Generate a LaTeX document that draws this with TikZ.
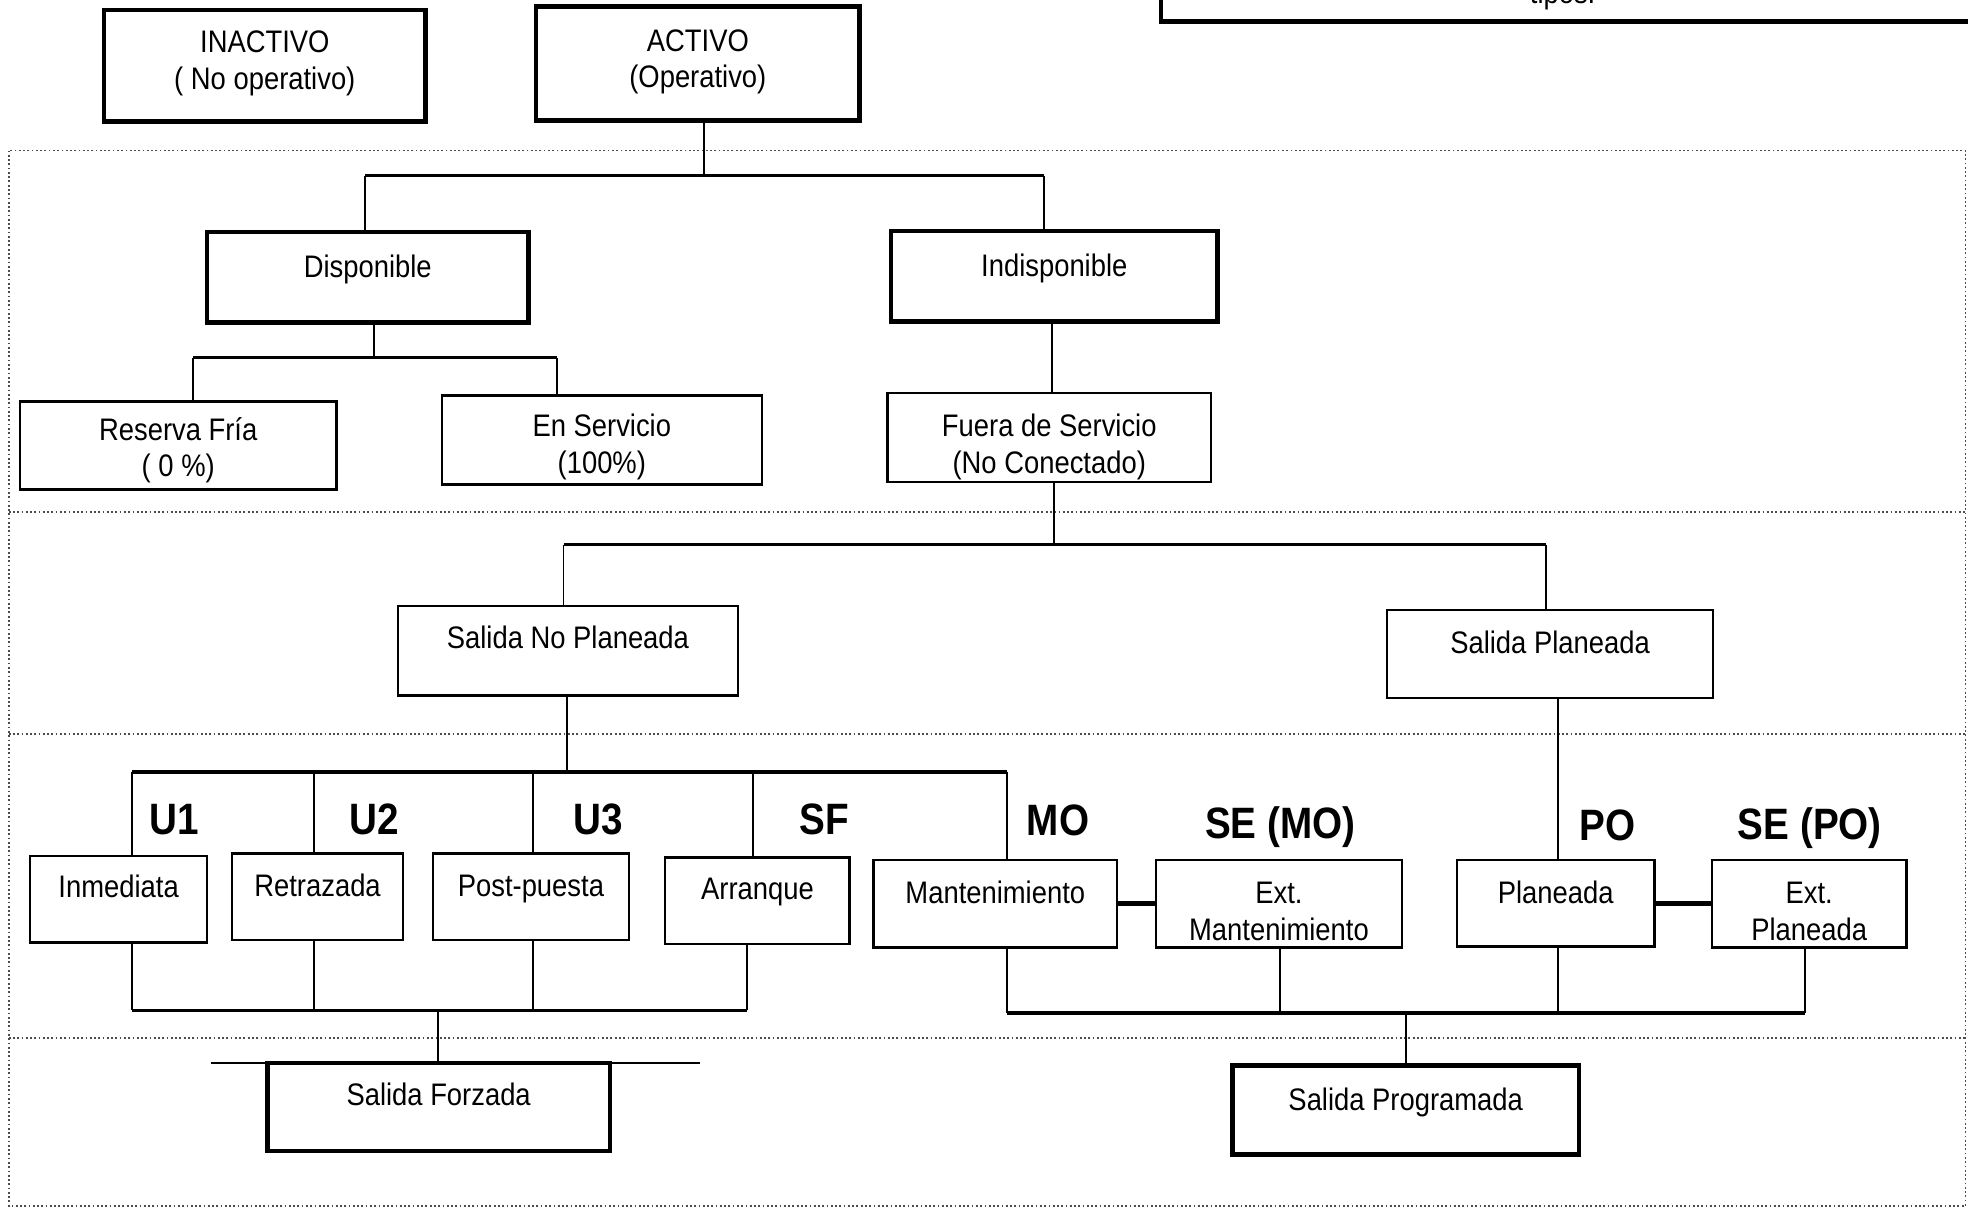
\documentclass[tikz,border=0pt]{standalone}
\usepackage{fontspec}
\setmainfont{Liberation Sans}[FakeStretch=0.88]
% box with its caption: name, x1, y1, x2, y2, style, baseline of last caption line, caption
\newcommand\bx[8]{%
  \node[#6, minimum width={(#4-#2)*0.5pt}, minimum height={(#5-#3)*0.5pt}] (#1) at ({(#2+#4)/2},{(#3+#5)/2}) {};
  \node[lbl] (#1-t) at ({(#2+#4)/2},#7) {#8};}
\begin{document}
\begin{tikzpicture}[x=0.5pt,y=-0.5pt,
  box/.style={draw=black, line width=1pt, inner sep=0pt, outer sep=0pt, fill=white},
  thickbox/.style={box, line width=1.8pt},
  lbl/.style={inner sep=0pt, font=\fontsize{12.4}{14.5}\selectfont, align=center, anchor=base},
  tag/.style={inner sep=0pt, font=\fontsize{17.5}{20}\selectfont\bfseries, anchor=base},
  conn/.style={line width=0.75pt},
  bar/.style={line width=1.3pt},
  link/.style={line width=1.8pt},
  sep/.style={draw=black!70, densely dotted, line width=0.7pt}]
\useasboundingbox (0,0) rectangle (1568,964);
\clip (0,0) rectangle (1568,964);
\fill[white] (0,0) rectangle (1568,964);

% dotted frame and band separators
\draw[sep] (7,120) rectangle (1566,961);
\draw[sep] (7,408) -- (1566,408);
\draw[sep] (7,585) -- (1566,585);
\draw[sep] (7,827) -- (1566,827);

% partly visible note box at the top right
\node[thickbox, minimum width={675*0.5pt}, minimum height={77*0.5pt}] (note) at (1262.5,-21.5) {};
\node[lbl] (note-t) at (1245,3) {tipos.};

% state boxes
\bx{inact}{83}{8}{339}{97}{thickbox}{71}{INACTIVO\\( No operativo)}
\bx{act}{427}{5}{685}{96}{thickbox}{70}{ACTIVO\\(Operativo)}
\bx{disp}{165}{185}{421}{257}{thickbox}{221}{Disponible}
\bx{indisp}{710}{184}{970}{256}{thickbox}{220}{Indisponible}
\bx{res}{16}{320}{268}{390}{box}{380}{Reserva Fría\\( 0 \%)}
\bx{ens}{352}{315}{607}{386}{box}{377}{En Servicio\\(100\%)}
\bx{fue}{707}{313}{965}{384}{box}{377}{Fuera de Servicio\\(No Conectado)}
\bx{snp}{317}{483}{588}{554}{box}{517}{Salida No Planeada}
\bx{sp}{1105}{486}{1365}{556}{box}{521}{Salida Planeada}
\bx{inm}{24}{682}{165}{751}{box}{715}{Inmediata}
\bx{ret}{185}{680}{321}{749}{box}{714}{Retrazada}
\bx{pos}{345}{680}{501}{749}{box}{714}{Post-puesta}
\bx{arr}{530}{683}{677}{752}{box}{717}{Arranque}
\bx{man}{696}{685}{890}{755}{box}{720}{Mantenimiento}
\bx{extm}{921}{685}{1117}{755}{box}{749}{Ext.\\Mantenimiento}
\bx{pla}{1161}{685}{1318}{754}{box}{720}{Planeada}
\bx{extp}{1364}{685}{1519}{755}{box}{749}{Ext.\\Planeada}
\bx{sfz}{213}{847}{486}{917}{thickbox}{881}{Salida Forzada}
\bx{spr}{982}{849}{1258}{920}{thickbox}{885}{Salida Programada}

% outage class tags
\node[tag] (u1) at (139,665) {U1};
\node[tag] (u2) at (298,665) {U2};
\node[tag] (u3) at (477,665) {U3};
\node[tag] (sf) at (657,665) {SF};
\node[tag] (mo) at (843,666) {MO};
\node[tag] (semo) at (1020,668) {SE (MO)};
\node[tag] (po) at (1281,670) {PO};
\node[tag] (sepo) at (1442,669) {SE (PO)};

% activo -> disponible / indisponible
\coordinate (b1l) at (291,140); \coordinate (b1m) at (561,140); \coordinate (b1r) at (832,140);
\draw[conn] (b1m |- act.south) -- (b1m);
\draw[bar] (b1l) -- (b1r);
\draw[conn] (b1l) -- (b1l |- disp.north);
\draw[conn] (b1r) -- (b1r |- indisp.north);

% disponible -> reserva fria / en servicio
\coordinate (b2l) at (154,285); \coordinate (b2m) at (298,285); \coordinate (b2r) at (444,285);
\draw[conn] (b2m |- disp.south) -- (b2m);
\draw[bar] (b2l) -- (b2r);
\draw[conn] (b2l) -- (b2l |- res.north);
\draw[conn] (b2r) -- (b2r |- ens.north);

% indisponible -> fuera de servicio
\draw[conn] (indisp.south -| 838,0) -- (fue.north -| 838,0);

% fuera de servicio -> salidas
\coordinate (b3l) at (449,434); \coordinate (b3m) at (840,434); \coordinate (b3r) at (1232,434);
\draw[conn] (b3m |- fue.south) -- (b3m);
\draw[bar] (b3l) -- (b3r);
\draw[conn] (b3l) -- (b3l |- snp.north);
\draw[conn] (b3r) -- (b3r |- sp.north);

% salida no planeada -> U1, U2, U3, SF, MO
\coordinate (b4l) at (105,615); \coordinate (b4m) at (452,615); \coordinate (b4r) at (802,615);
\draw[conn] (b4m |- snp.south) -- (b4m);
\draw[bar] (b4l) -- (b4r);
\draw[conn] (b4l) -- (b4l |- inm.north);
\draw[conn] (250,615) -- (ret.north -| 250,0);
\draw[conn] (425,615) -- (pos.north -| 425,0);
\draw[conn] (600,615) -- (arr.north -| 600,0);
\draw[conn] (b4r) -- (b4r |- man.north);

% salida planeada -> planeada
\draw[conn] (sp.south -| 1241,0) -- (pla.north -| 1241,0);

% extensions
\draw[link] (man.east |- 0,720) -- (extm.west |- 0,720);
\draw[link] (pla.east |- 0,720) -- (extp.west |- 0,720);

% forced outage collector
\coordinate (b5l) at (105,805); \coordinate (b5m) at (349,805); \coordinate (b5r) at (595,805);
\draw[conn] (b5l |- inm.south) -- (b5l);
\draw[conn] (ret.south -| 250,0) -- (250,805);
\draw[conn] (pos.south -| 425,0) -- (425,805);
\draw[conn] (b5r |- arr.south) -- (b5r);
\draw[bar] (b5l) -- (b5r);
\draw[conn] (b5m) -- (b5m |- sfz.north);
\coordinate (sfzl) at (168,847); \coordinate (sfzr) at (558,847);
\draw[line width=1pt] (sfzl) -- (sfzr);

% scheduled outage collector
\coordinate (b6l) at (802,807); \coordinate (b6m) at (1120,807); \coordinate (b6r) at (1438,807);
\draw[conn] (b6l |- man.south) -- (b6l);
\draw[conn] (extm.south -| 1020,0) -- (1020,807);
\draw[conn] (pla.south -| 1241,0) -- (1241,807);
\draw[conn] (b6r |- extp.south) -- (b6r);
\draw[bar] (b6l) -- (b6r);
\draw[conn] (b6m) -- (b6m |- spr.north);
\end{tikzpicture}
\end{document}
